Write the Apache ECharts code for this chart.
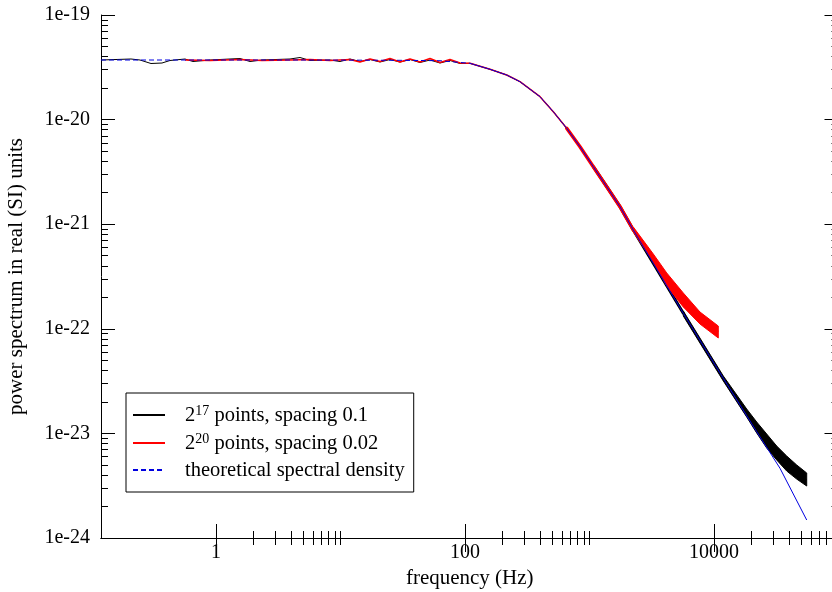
<!DOCTYPE html>
<html>
<head>
<meta charset="utf-8">
<title>power spectrum</title>
<script src="https://cdn.jsdelivr.net/npm/echarts@6/dist/echarts.min.js"></script>
<style>
  body { margin: 0; background: #fff; }
  #chart { width: 832px; height: 592px; }
</style>
</head>
<body>
<div id="chart"></div>
<script>
// 2^17 points, spacing 0.1
const freqBlack = [0.1192, 0.2076, 0.2452, 0.3005, 0.3683, 0.4271, 0.5637, 0.6535, 0.8952, 1.559, 1.876, 2.342,
  3.930, 4.728, 5.689, 8.236, 9.91, 11.92, 14.34, 17.26, 20.77, 24.98, 30.06, 36.16, 43.51, 52.35, 63.0, 75.78,
  91.2, 109.7, 158.8, 216.2, 276.5, 400.4, 512.0, 656.0, 838.9, 1073, 1375, 1758, 2248, 3254, 5668, 11876,
  18310, 26500, 38370, 55540];
const psdBlack = [3.713e-20, 3.795e-20, 3.713e-20, 3.437e-20, 3.475e-20, 3.673e-20, 3.795e-20, 3.592e-20, 3.713e-20,
  3.837e-20, 3.592e-20, 3.713e-20, 3.795e-20, 3.923e-20, 3.673e-20, 3.713e-20, 3.592e-20, 3.795e-20, 3.592e-20,
  3.753e-20, 3.553e-20, 3.753e-20, 3.553e-20, 3.753e-20, 3.514e-20, 3.713e-20, 3.475e-20, 3.673e-20, 3.437e-20,
  3.452e-20, 3.026e-20, 2.670e-20, 2.303e-20, 1.656e-20, 1.190e-20, 8.254e-21, 5.505e-21, 3.545e-21, 2.283e-21,
  1.470e-21, 8.800e-22, 4.228e-22, 1.406e-22, 3.363e-23, 1.556e-23, 7.9e-24, 5.0e-24, 3.60e-24];
// spread of the noisy black tail (lower / upper edge)
const freqBlackBand = [5668, 11876, 18310, 22030, 26500, 31890, 38370, 46160, 55540];
const psdBlackLo = [1.326e-22, 3.170e-23, 1.434e-23, 1.009e-23, 7.25e-24, 5.57e-24, 4.37e-24, 3.66e-24, 3.14e-24];
const psdBlackHi = [1.480e-22, 3.538e-23, 1.711e-23, 1.285e-23, 9.87e-24, 7.57e-24, 6.08e-24, 4.99e-24, 4.18e-24];

// 2^20 points, spacing 0.02
const freqRed = [0.5637, 0.8952, 1.559, 2.342, 3.930, 5.689, 8.236, 11.92, 14.34, 17.26, 20.77, 24.98, 30.06,
  36.16, 43.51, 52.35, 63.0, 75.78, 91.2, 109.7, 158.8, 216.2, 276.5, 400.4, 512.0, 656.0, 838.9, 1073, 1375,
  1758, 2248, 3254, 4171, 5668, 7718, 10826];
const psdRed = [3.713e-20, 3.673e-20, 3.753e-20, 3.673e-20, 3.713e-20, 3.753e-20, 3.673e-20, 3.753e-20, 3.553e-20,
  3.795e-20, 3.592e-20, 3.837e-20, 3.553e-20, 3.795e-20, 3.553e-20, 3.837e-20, 3.514e-20, 3.753e-20, 3.475e-20,
  3.452e-20, 3.026e-20, 2.670e-20, 2.303e-20, 1.656e-20, 1.190e-20, 8.254e-21, 5.505e-21, 3.545e-21, 2.283e-21,
  1.470e-21, 8.800e-22, 4.753e-22, 2.928e-22, 1.815e-22, 1.260e-22, 9.38e-23];
// spread of the noisy red tail
const freqRedBand = [2248, 3254, 4171, 5668, 7718, 10826];
const psdRedLo = [8.42e-22, 4.35e-22, 2.57e-22, 1.616e-22, 1.111e-22, 8.17e-23];
const psdRedHi = [9.40e-22, 5.19e-22, 3.42e-22, 2.20e-22, 1.447e-22, 1.063e-22];

// theoretical spectral density
const freqTheory = [0.1192, 4.728, 30.06, 63.0, 109.7, 158.8, 216.2, 276.5, 400.4, 512.0, 656.0, 838.9, 1073,
  1375, 1758, 2248, 3254, 5668, 11876, 22030, 33900, 55540];
const psdTheory = [3.713e-20, 3.713e-20, 3.688e-20, 3.656e-20, 3.452e-20, 3.026e-20, 2.670e-20, 2.303e-20,
  1.656e-20, 1.190e-20, 8.254e-21, 5.505e-21, 3.545e-21, 2.283e-21, 1.470e-21, 8.800e-22, 4.228e-22,
  1.406e-22, 3.363e-23, 1.038e-23, 4.639e-24, 1.486e-24];

const seriesNames = ['2^17 points, spacing 0.1', '2^20 points, spacing 0.02', 'theoretical spectral density'];

// axis ticks
const xMajorTicks = [1, 100, 10000];
const xMinorTicks = [2, 3, 4, 5, 6, 7, 8, 9, 10, 200, 300, 400, 500, 600, 700, 800, 900, 1000,
  20000, 30000, 40000, 50000, 60000, 70000, 80000, 90000, 100000];
const yMajorTicks = [1e-24, 1e-23, 1e-22, 1e-21, 1e-20, 1e-19];
const yMinorTicks = [2e-24, 3e-24, 4e-24, 5e-24, 6e-24, 7e-24, 8e-24, 9e-24,
  2e-23, 3e-23, 4e-23, 5e-23, 6e-23, 7e-23, 8e-23, 9e-23,
  2e-22, 3e-22, 4e-22, 5e-22, 6e-22, 7e-22, 8e-22, 9e-22,
  2e-21, 3e-21, 4e-21, 5e-21, 6e-21, 7e-21, 8e-21, 9e-21,
  2e-20, 3e-20, 4e-20, 5e-20, 6e-20, 7e-20, 8e-20, 9e-20];

const X_MIN = 0.1192, X_MAX = 100000, Y_MIN = 1e-24, Y_MAX = 1e-19;
const FONT = 'Liberation Serif';

function pairs(f, s, lo, hi) {
  const out = [];
  for (let i = 0; i < f.length; i++) {
    if (lo === undefined || (f[i] >= lo && f[i] <= hi)) out.push([f[i], s[i]]);
  }
  return out;
}

function xAxis(position, ticks, len, major) {
  return {
    type: 'log', logBase: 10, min: X_MIN, max: X_MAX, position: position,
    axisLine: { show: major, lineStyle: { color: '#000', width: 1 } },
    axisTick: { show: true, inside: true, length: len, customValues: ticks, lineStyle: { color: '#000' } },
    axisLabel: (major && position === 'bottom') ? {
      customValues: xMajorTicks, margin: 5, color: '#000', fontFamily: FONT, fontSize: 20,
      formatter: v => String(Math.round(v))
    } : { show: false },
    splitLine: { show: false },
    name: (major && position === 'bottom') ? 'frequency (Hz)' : '',
    nameLocation: 'middle', nameGap: 29,
    nameTextStyle: { color: '#000', fontFamily: FONT, fontSize: 21 }
  };
}

function yAxis(position, ticks, len, major) {
  return {
    type: 'log', logBase: 10, min: Y_MIN, max: Y_MAX, position: position,
    axisLine: { show: major, lineStyle: { color: '#000', width: 1 } },
    axisTick: { show: true, inside: true, length: len, customValues: ticks, lineStyle: { color: '#000' } },
    axisLabel: (major && position === 'left') ? {
      customValues: yMajorTicks, margin: 11, color: '#000', fontFamily: FONT, fontSize: 20,
      formatter: v => '1e' + Math.round(Math.log10(v))
    } : { show: false },
    splitLine: { show: false },
    name: (major && position === 'left') ? 'power spectrum in real (SI) units' : '',
    nameLocation: 'middle', nameGap: 74,
    nameTextStyle: { color: '#000', fontFamily: FONT, fontSize: 21 }
  };
}

function line(name, data, color, width, dashed, z, cap) {
  return {
    name: name, type: 'line', data: data, showSymbol: false, symbol: 'none',
    xAxisIndex: 0, yAxisIndex: 0, z: z, animation: false,
    lineStyle: { color: color, width: width, type: dashed ? [5, 3] : 'solid', cap: cap || 'butt', join: 'round' },
    itemStyle: { color: color }
  };
}

// filled strip between a lower and an upper edge, placed through the axes
function band(name, f, lo, hi, color, z) {
  return {
    name: name, type: 'custom', coordinateSystem: 'cartesian2d', xAxisIndex: 0, yAxisIndex: 0, z: z,
    data: f.map((v, i) => [v, lo[i], hi[i]]),
    encode: { x: 0, y: [1, 2] },
    renderItem: function (params, api) {
      if (params.dataIndex !== 0) return null;
      const top = f.map((v, i) => api.coord([v, hi[i]]));
      const bottom = f.map((v, i) => api.coord([v, lo[i]])).reverse();
      return {
        type: 'polygon',
        shape: { points: top.concat(bottom) },
        style: { fill: color, stroke: color, lineWidth: 1 }
      };
    }
  };
}

const chart = echarts.init(document.getElementById('chart'));
chart.setOption({
  animation: false,
  backgroundColor: '#fff',
  grid: { left: 101, top: 15, right: -6.5, bottom: 54, containLabel: false, outerBoundsMode: 'none' },
  xAxis: [
    xAxis('bottom', xMajorTicks, 14, true),
    xAxis('bottom', xMinorTicks, 7, false),
    xAxis('top', xMajorTicks, 14, true),
    xAxis('top', xMinorTicks, 7, false)
  ],
  yAxis: [
    yAxis('left', yMajorTicks, 14, true),
    yAxis('left', yMinorTicks, 7, false),
    yAxis('right', yMajorTicks, 14, true),
    yAxis('right', yMinorTicks, 7, false)
  ],
  legend: {
    data: seriesNames,
    orient: 'vertical', left: 126, top: 393,
    padding: [11, 9, 11, 6], itemGap: 0,
    itemWidth: 32, itemHeight: 12,
    borderColor: '#000', borderWidth: 1, borderRadius: 0,
    backgroundColor: '#fff',
    itemStyle: { opacity: 0 },
    formatter: function (name) {
      if (name === seriesNames[0]) return '{n|2}{sup|17}{n| points, spacing 0.1}';
      if (name === seriesNames[1]) return '{n|2}{sup|20}{n| points, spacing 0.02}';
      return '{n|' + name + '}';
    },
    textStyle: {
      color: '#000', fontFamily: FONT, fontSize: 20.5, padding: [0, 0, 0, 15],
      rich: {
        n: { color: '#000', fontFamily: FONT, fontSize: 20.5, lineHeight: 22, verticalAlign: 'bottom' },
        sup: { color: '#000', fontFamily: FONT, fontSize: 14, lineHeight: 14, padding: [0, 0, 14, 0], verticalAlign: 'top' }
      }
    }
  },
  series: [
    line(seriesNames[0], pairs(freqBlack, psdBlack), '#000', 1, false, 2),
    line(seriesNames[0], pairs(freqBlack, psdBlack, 1000, 6000), '#000', 3, false, 2, 'round'),
    band('black spread', freqBlackBand, psdBlackLo, psdBlackHi, '#000', 2),
    line(seriesNames[1], pairs(freqRed, psdRed), '#ff0000', 1.5, false, 3),
    line(seriesNames[1], pairs(freqRed, psdRed, 600, 2300), '#ff0000', 3.5, false, 3, 'round'),
    band('red spread', freqRedBand, psdRedLo, psdRedHi, '#ff0000', 3),
    line(seriesNames[2], pairs(freqTheory, psdTheory, 0, 120), '#0000e0', 1, true, 4),
    line(seriesNames[2], pairs(freqTheory, psdTheory, 100, 1e6), '#0000e0', 1, false, 4)
  ]
});
</script>
</body>
</html>
